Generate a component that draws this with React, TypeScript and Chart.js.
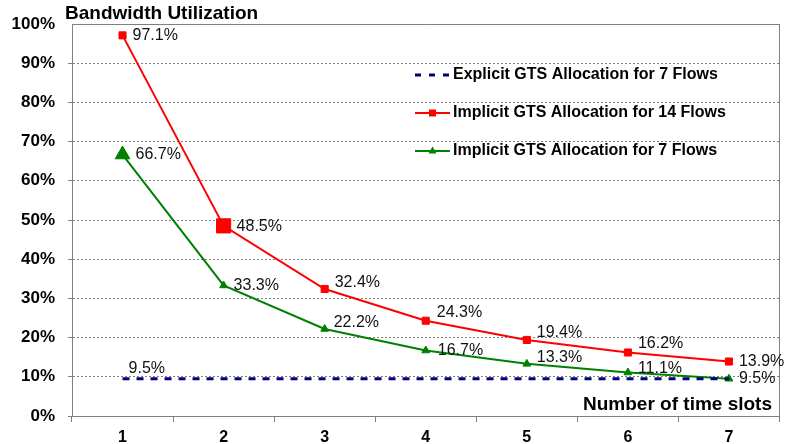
import React, { useEffect, useRef } from 'react';
import { Chart, registerables } from 'chart.js';

Chart.register(...registerables);

const categories = ['1', '2', '3', '4', '5', '6', '7'];
const explicit7Flows = [9.5, 9.5, 9.5, 9.5, 9.5, 9.5, 9.5];
const implicit14Flows = [97.1, 48.5, 32.4, 24.3, 19.4, 16.2, 13.9];
const implicit7Flows = [66.7, 33.3, 22.2, 16.7, 13.3, 11.1, 9.5];
const seriesNames = [
  'Explicit GTS Allocation for 7 Flows',
  'Implicit GTS Allocation for 14 Flows',
  'Implicit GTS Allocation for 7 Flows',
];
const yAxisTitle = 'Bandwidth Utilization';
const xAxisTitle = 'Number of time slots';

const FONT = '"Liberation Sans", Arial, sans-serif';
const NAVY = '#000080';
const RED = '#ff0000';
const GREEN = '#008000';
const GRID = '#808080';

// label offsets (dx, dy) per dataset / point; null = no label
const labelOffsets: (number[] | null)[][] = [
  [[6, -10], null, null, null, null, null, null],
  [[10, 0], [13, 1], [10, -6], [11, -8], [10, -7], [10, -9], [10, 0]],
  [[13, 0], [10, 0], [9, -6], [12, 0], [10, -6], [10, -4], [10, 0]],
];

const overlay = {
  id: 'overlay',
  beforeDatasetsDraw(chart: any) {
    const { ctx, chartArea: ca } = chart;
    ctx.save();
    ctx.setLineDash([]);
    ctx.strokeStyle = GRID;
    ctx.lineWidth = 1;
    ctx.beginPath();
    ctx.moveTo(ca.left, Math.round(ca.top) + 0.5);
    ctx.lineTo(ca.right, Math.round(ca.top) + 0.5);
    ctx.moveTo(Math.round(ca.right) - 0.5, ca.top);
    ctx.lineTo(Math.round(ca.right) - 0.5, ca.bottom);
    ctx.stroke();
    ctx.restore();
  },
  afterDatasetsDraw(chart: any) {
    const { ctx, chartArea: ca } = chart;
    ctx.save();
    // data labels
    ctx.font = `16px ${FONT}`;
    ctx.fillStyle = '#111';
    ctx.textAlign = 'left';
    ctx.textBaseline = 'middle';
    chart.data.datasets.forEach((ds: any, di: number) => {
      const meta = chart.getDatasetMeta(di);
      meta.data.forEach((pt: any, i: number) => {
        const off = labelOffsets[di][i];
        if (!off) return;
        ctx.fillText(ds.data[i].toFixed(1) + '%', pt.x + off[0], pt.y + off[1]);
      });
    });

    // axis titles
    ctx.font = `bold 19px ${FONT}`;
    ctx.fillStyle = '#000';
    ctx.textAlign = 'left';
    ctx.fillText(yAxisTitle, 65, 14);
    ctx.textAlign = 'right';
    ctx.fillText(xAxisTitle, 772, 405);

    // legend
    const lx0 = 415, lx1 = 450;
    const rows = [75, 113, 151];
    const colors = [NAVY, RED, GREEN];
    rows.forEach((y, k) => {
      ctx.strokeStyle = colors[k];
      ctx.fillStyle = colors[k];
      if (k === 0) {
        ctx.lineWidth = 3;
        ctx.setLineDash([6, 8]);
      } else {
        ctx.lineWidth = 2;
        ctx.setLineDash([]);
      }
      ctx.beginPath();
      ctx.moveTo(lx0, y);
      ctx.lineTo(lx1, y);
      ctx.stroke();
      ctx.setLineDash([]);
      const cx = (lx0 + lx1) / 2;
      if (k === 1) {
        ctx.fillRect(cx - 3.5, y - 3.5, 7, 7);
      } else if (k === 2) {
        ctx.beginPath();
        ctx.moveTo(cx, y - 4.5);
        ctx.lineTo(cx + 4, y + 2.5);
        ctx.lineTo(cx - 4, y + 2.5);
        ctx.closePath();
        ctx.fill();
      }
      ctx.font = `bold 16px ${FONT}`;
      ctx.fillStyle = '#000';
      ctx.textAlign = 'left';
      ctx.textBaseline = 'middle';
      ctx.fillText(seriesNames[k], 453, y);
    });
    ctx.restore();
  },
};

export default function App() {
  const ref = useRef<HTMLCanvasElement | null>(null);

  useEffect(() => {
    if (!ref.current) return;
    const chart = new Chart(ref.current, {
      type: 'line',
      data: {
        labels: categories,
        datasets: [
          {
            label: seriesNames[0],
            data: explicit7Flows,
            borderColor: NAVY,
            backgroundColor: NAVY,
            borderWidth: 3,
            borderDash: [7, 7],
            pointRadius: 0,
            tension: 0,
          },
          {
            label: seriesNames[1],
            data: implicit14Flows,
            borderColor: RED,
            backgroundColor: RED,
            borderWidth: 2,
            pointStyle: 'rect',
            pointRadius: [5, 10, 5, 5, 5, 5, 5],
            pointBorderWidth: 1,
            pointBackgroundColor: RED,
            pointBorderColor: RED,
            tension: 0,
          },
          {
            label: seriesNames[2],
            data: implicit7Flows,
            borderColor: GREEN,
            backgroundColor: GREEN,
            borderWidth: 2,
            pointStyle: 'triangle',
            pointRadius: [8.5, 4.5, 4.5, 4.5, 4.5, 4.5, 4.5],
            pointBorderWidth: 1,
            pointBackgroundColor: GREEN,
            pointBorderColor: GREEN,
            tension: 0,
          },
        ],
      },
      options: {
        responsive: false,
        animation: false,
        devicePixelRatio: 1,
        layout: { padding: { top: 24, right: 5, left: 0, bottom: 0 } },
        plugins: {
          legend: { display: false },
          tooltip: { enabled: false },
          title: { display: false },
        },
        scales: {
          x: {
            type: 'category',
            offset: true,
            afterFit: (s: any) => {
              s.height = 28;
            },
            grid: {
              offset: true,
              drawOnChartArea: false,
              drawTicks: true,
              tickLength: 6,
              color: GRID,
            },
            border: { display: true, color: GRID, width: 1 },
            ticks: {
              color: '#000',
              font: { family: FONT, size: 16, weight: 'bold' },
              padding: 6,
              maxRotation: 0,
            },
          },
          y: {
            min: 0,
            max: 100,
            afterFit: (s: any) => {
              s.width = 72;
            },
            grid: {
              color: (c: any) => (c.tick && c.tick.value === 100 ? 'rgba(0,0,0,0)' : GRID),
              drawTicks: true,
              tickLength: 4,
            },
            border: { display: true, color: GRID, width: 1, dash: [2, 2] },
            ticks: {
              stepSize: 10,
              color: '#000',
              padding: 13,
              font: { family: FONT, size: 17, weight: 'bold' },
              callback: (v: any) => v + '%',
            },
          },
        },
      },
      plugins: [overlay],
    });
    return () => chart.destroy();
  }, []);

  return (
    <div style={{ position: 'fixed', left: 0, top: 0, width: 789, height: 444, background: '#fff' }}>
      <canvas ref={ref} width={789} height={444} style={{ display: 'block', width: 789, height: 444 }} />
    </div>
  );
}
